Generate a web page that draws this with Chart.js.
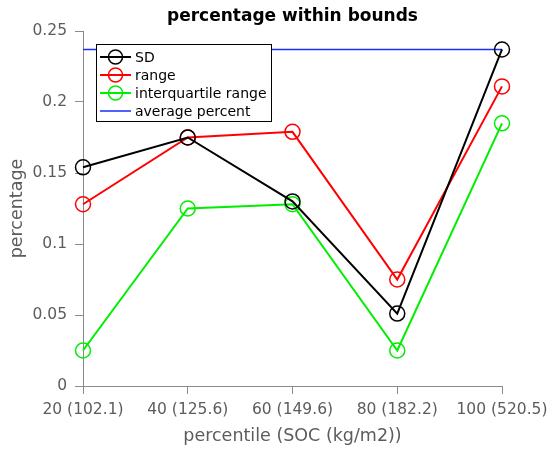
<!DOCTYPE html>
<html>
<head>
<meta charset="utf-8">
<script src="https://cdn.jsdelivr.net/npm/chart.js@4/dist/chart.umd.min.js"></script>
<style>
  html, body { margin: 0; padding: 0; background: #fff; }
  #wrap { width: 553px; height: 450px; }
</style>
</head>
<body>
<div id="wrap"><canvas id="myChart" width="553" height="450"></canvas></div>
<script>
// percentile classes (SOC kg/m2)
var categories = ["20 (102.1)", "40 (125.6)", "60 (149.6)", "80 (182.2)", "100 (520.5)"];

// share of values within bounds
var sdValues = [0.154, 0.175, 0.130, 0.051, 0.237];
var rangeValues = [0.128, 0.175, 0.179, 0.075, 0.211];
var iqrValues = [0.025, 0.125, 0.128, 0.025, 0.185];
var averagePercent = [0.237, 0.237, 0.237, 0.237, 0.237];

var yTicks = [0, 0.05, 0.1, 0.15, 0.2, 0.25];

var axisColor = '#8a8a8a';
var textColor = '#5c5c5c';
var fontFamily = 'DejaVu Sans';

// title centred over the plot area
var plotTitle = {
  id: 'plotTitle',
  afterDraw: function (chart) {
    var ctx = chart.ctx;
    var a = chart.chartArea;
    ctx.save();
    ctx.font = 'bold 17px ' + fontFamily;
    ctx.fillStyle = '#000';
    ctx.textAlign = 'center';
    ctx.textBaseline = 'middle';
    ctx.fillText('percentage within bounds', (a.left + a.right) / 2, 17);
    ctx.restore();
  }
};

// legend box drawn inside the plot, like the original
var insideLegend = {
  id: 'insideLegend',
  afterDraw: function (chart) {
    var ctx = chart.ctx;
    var x0 = 96, y0 = 44, w = 175, h = 77;
    ctx.save();
    ctx.fillStyle = '#fff';
    ctx.fillRect(x0, y0, w, h);
    ctx.strokeStyle = '#000';
    ctx.lineWidth = 1;
    ctx.strokeRect(x0 + 0.5, y0 + 0.5, w, h);
    ctx.font = '14px ' + fontFamily;
    ctx.textBaseline = 'middle';
    chart.data.datasets.forEach(function (ds, i) {
      var y = y0 + 13 + i * 18;
      ctx.strokeStyle = ds.borderColor;
      ctx.lineWidth = ds.borderWidth;
      ctx.beginPath();
      ctx.moveTo(x0 + 4, y);
      ctx.lineTo(x0 + 35, y);
      ctx.stroke();
      if (ds.pointRadius > 0) {
        ctx.lineWidth = ds.pointBorderWidth;
        ctx.beginPath();
        ctx.arc(x0 + 19.5, y, 7, 0, Math.PI * 2);
        ctx.stroke();
      }
      ctx.fillStyle = '#000';
      ctx.fillText(ds.label, x0 + 39, y + 1);
    });
    ctx.restore();
  }
};

function series(label, data, color) {
  return {
    label: label,
    data: data,
    borderColor: color,
    backgroundColor: 'transparent',
    borderWidth: 2,
    pointRadius: 7.5,
    pointHoverRadius: 7.5,
    pointBorderWidth: 1.5,
    pointBorderColor: color,
    pointBackgroundColor: 'transparent',
    tension: 0,
    clip: false
  };
}

document.addEventListener("DOMContentLoaded", function () {
  var ctx = document.getElementById("myChart").getContext("2d");

  var avg = {
    label: 'average percent',
    data: averagePercent,
    borderColor: '#1a2cff',
    borderWidth: 1.5,
    pointRadius: 0,
    pointHoverRadius: 0,
    pointBorderWidth: 0,
    clip: false,
    order: 4
  };

  var sd = series('SD', sdValues, '#000000'); sd.order = 1;
  var rg = series('range', rangeValues, '#ff0000'); rg.order = 2;
  var iqr = series('interquartile range', iqrValues, '#00ee00'); iqr.order = 3;

  var myChart = new Chart(ctx, {
    type: 'line',
    data: {
      labels: categories,
      datasets: [sd, rg, iqr, avg]
    },
    options: {
      responsive: false,
      animation: false,
      layout: { padding: { top: 31, right: 51, bottom: 0, left: 0 } },
      plugins: {
        legend: { display: false },
        tooltip: { enabled: false },
        title: { display: false }
      },
      scales: {
        x: {
          type: 'category',
          offset: false,
          grid: { display: true, drawOnChartArea: false, tickLength: 8, color: axisColor, tickColor: axisColor },
          border: { color: axisColor, width: 1 },
          ticks: { color: textColor, font: { family: fontFamily, size: 15.5 }, padding: 7, maxRotation: 0, autoSkip: false },
          title: { display: true, text: 'percentile (SOC (kg/m2))', color: textColor, font: { family: fontFamily, size: 17.5 }, padding: { top: 0, bottom: 3 } },
          afterFit: function (scale) {
            scale.height = 64;
            // last label fits inside the right padding already
            scale.paddingRight = 0;
          }
        },
        y: {
          min: 0,
          max: 0.25,
          afterBuildTicks: function (scale) {
            scale.ticks = yTicks.map(function (v) { return { value: v }; });
          },
          grid: { display: true, drawOnChartArea: false, tickLength: 8, color: axisColor, tickColor: axisColor },
          border: { color: axisColor, width: 1 },
          ticks: {
            color: textColor,
            font: { family: fontFamily, size: 15.5 },
            padding: 8,
            callback: function (v) { return String(v); }
          },
          title: { display: true, text: 'percentage', color: textColor, font: { family: fontFamily, size: 17.5 }, padding: { top: 7, bottom: 0 } },
          afterFit: function (scale) { scale.width = 83; }
        }
      }
    },
    plugins: [insideLegend, plotTitle]
  });
});
</script>
</body>
</html>
